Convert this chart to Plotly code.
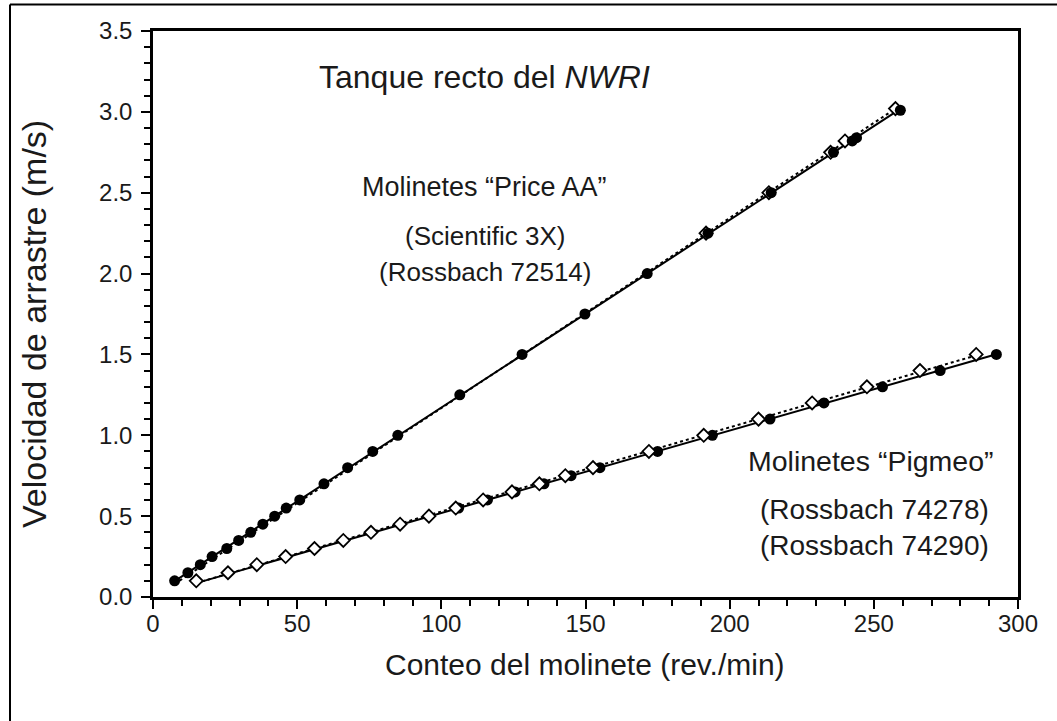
import numpy as np
import plotly.graph_objects as go

# ---------------- data ----------------
# Price AA meters: filled circles (solid line)
price_filled_x = [7.5, 12.1, 16.4, 20.5, 25.6, 29.7, 33.9, 38.1, 42.2, 46.2, 50.9,
                  59.3, 67.5, 76.2, 84.9, 106.4, 128.0, 149.8, 171.4, 192.5, 214.4,
                  236.0, 242.5, 244.0, 259.2]
price_filled_y = [0.10, 0.15, 0.20, 0.25, 0.30, 0.35, 0.40, 0.45, 0.50, 0.55, 0.60,
                  0.70, 0.80, 0.90, 1.00, 1.25, 1.50, 1.75, 2.00, 2.25, 2.50,
                  2.75, 2.82, 2.84, 3.01]
# Price AA meters: open diamonds (dotted line) - only the ones visible
price_open_x = [191.8, 213.6, 235.0, 240.0, 257.5]
price_open_y = [2.25, 2.50, 2.75, 2.82, 3.02]

# Pigmeo meters: open diamonds (dotted line)
pig_open_x = [15.0, 26.0, 36.0, 46.0, 56.0, 66.0, 75.6, 85.7, 95.7, 105.0, 114.5,
              124.5, 134.0, 143.0, 152.6, 172.0, 191.0, 210.0, 228.6, 247.6, 266.0, 285.5]
pig_open_y = [0.10, 0.15, 0.20, 0.25, 0.30, 0.35, 0.40, 0.45, 0.50, 0.55, 0.60,
              0.65, 0.70, 0.75, 0.80, 0.90, 1.00, 1.10, 1.20, 1.30, 1.40, 1.50]
# Pigmeo meters: filled circles (solid line)
pig_filled_x = [106.0, 116.0, 125.6, 135.6, 145.0, 155.0, 175.0, 194.0, 214.0,
                232.7, 253.0, 273.0, 292.5]
pig_filled_y = [0.55, 0.60, 0.65, 0.70, 0.75, 0.80, 0.90, 1.00, 1.10,
                1.20, 1.30, 1.40, 1.50]

x_ticks = [0, 50, 100, 150, 200, 250, 300]
y_ticks = [0.0, 0.5, 1.0, 1.5, 2.0, 2.5, 3.0, 3.5]

x_title = "Conteo del molinete (rev./min)"
y_title = "Velocidad de arrastre (m/s)"
title_text = "Tanque recto del <i>NWRI</i>"
price_lines = ["Molinetes “Price AA”", "(Scientific 3X)", "(Rossbach 72514)"]
pig_lines = ["Molinetes “Pigmeo”", "(Rossbach 74278)", "(Rossbach 74290)"]

# ---------------- figure ----------------
W, H = 1057, 721
ML, MR, MT, MB = 153, 39, 31, 124
FONT = "Liberation Sans, Arial, Helvetica, sans-serif"
INK = "#1a1a1a"


def fit_line(xs, ys, x_from, x_to):
    k, b = np.polyfit(xs, ys, 1)
    xx = np.array([x_from, x_to])
    return xx, k * xx + b


fig = go.Figure()

price_lo = min(price_filled_x)
pig_lo = min(pig_open_x)

lx, ly = fit_line(price_open_x, price_open_y, price_lo, max(price_open_x))
fig.add_trace(go.Scatter(x=lx, y=ly, mode="lines",
                         line=dict(color="black", width=2, dash="dot"), hoverinfo="skip"))
lx, ly = fit_line(price_filled_x, price_filled_y, price_lo, max(price_filled_x))
fig.add_trace(go.Scatter(x=lx, y=ly, mode="lines",
                         line=dict(color="black", width=2), hoverinfo="skip"))
lx, ly = fit_line(pig_open_x, pig_open_y, pig_lo, max(pig_open_x))
fig.add_trace(go.Scatter(x=lx, y=ly, mode="lines",
                         line=dict(color="black", width=2, dash="dot"), hoverinfo="skip"))
lx, ly = fit_line(pig_filled_x, pig_filled_y, pig_lo, max(pig_filled_x))
fig.add_trace(go.Scatter(x=lx, y=ly, mode="lines",
                         line=dict(color="black", width=2), hoverinfo="skip"))

open_marker = dict(symbol="diamond", size=10, color="white",
                   line=dict(color="black", width=1.8))
filled_marker = dict(symbol="circle", size=11, color="black",
                     line=dict(color="black", width=0))

fig.add_trace(go.Scatter(x=price_open_x, y=price_open_y, mode="markers", marker=open_marker))
fig.add_trace(go.Scatter(x=price_filled_x, y=price_filled_y, mode="markers", marker=filled_marker))
fig.add_trace(go.Scatter(x=pig_filled_x, y=pig_filled_y, mode="markers", marker=filled_marker))
fig.add_trace(go.Scatter(x=pig_open_x, y=pig_open_y, mode="markers", marker=open_marker))

axis_common = dict(
    showgrid=False, zeroline=False, showline=True, linecolor="black", linewidth=2.5,
    mirror=True, ticks="outside", tickcolor="black", tickwidth=2, ticklen=9,
    tickfont=dict(family=FONT, size=24, color=INK),
)
fig.update_xaxes(range=[0, 300], tickvals=x_ticks, ticktext=[str(v) for v in x_ticks],
                 minor=dict(dtick=10, tick0=0, ticks="outside", ticklen=6,
                            tickwidth=2, tickcolor="black"),
                 ticklabelstandoff=-6,
                 **axis_common)
fig.update_yaxes(range=[0, 3.5], tickvals=y_ticks, ticktext=[f"{v:.1f}" for v in y_ticks],
                 minor=dict(dtick=0.1, tick0=0, ticks="outside", ticklen=6,
                            tickwidth=2, tickcolor="black"),
                 ticklabelstandoff=4,
                 **axis_common)

pw = W - ML - MR
ph = H - MT - MB


def px_x(p):
    return (p - ML) / pw


def px_y(p):
    return 1 - (p - MT) / ph


f_mol = dict(family=FONT, size=27, color=INK)
f_ros = dict(family=FONT, size=26, color=INK)
f_mol2 = dict(family=FONT, size=28.5, color=INK)
f_ros2 = dict(family=FONT, size=28, color=INK)
annotations = [
    dict(x=57, y=3.215, xanchor="left", yanchor="middle", text=title_text,
         font=dict(family=FONT, size=32, color=INK)),
    dict(x=115, y=2.535, xanchor="center", yanchor="middle", text=price_lines[0], font=f_mol),
    dict(x=115, y=2.235, xanchor="center", yanchor="middle", text=price_lines[1], font=f_ros),
    dict(x=115, y=2.01, xanchor="center", yanchor="middle", text=price_lines[2], font=f_ros),
    dict(x=292.5, y=0.84, xanchor="right", yanchor="middle", text=pig_lines[0], font=f_mol2),
    dict(x=290.5, y=0.54, xanchor="right", yanchor="middle", text=pig_lines[1], font=f_ros2),
    dict(x=290.5, y=0.32, xanchor="right", yanchor="middle", text=pig_lines[2], font=f_ros2),
]
for a in annotations:
    a.update(xref="x", yref="y", showarrow=False)

# axis titles as annotations placed where they sit in the reference
annotations.append(dict(xref="paper", yref="paper", x=px_x(585), y=px_y(664),
                        xanchor="center", yanchor="middle", showarrow=False,
                        text=x_title, font=dict(family=FONT, size=30, color=INK)))
annotations.append(dict(xref="paper", yref="paper", x=px_x(34), y=px_y(324),
                        xanchor="center", yanchor="middle", showarrow=False, textangle=-90,
                        text=y_title, font=dict(family=FONT, size=34, color=INK)))

shapes = [
    dict(type="line", xref="paper", yref="paper", x0=px_x(10), x1=px_x(1060),
         y0=px_y(4.5), y1=px_y(4.5), line=dict(color="black", width=2)),
    dict(type="line", xref="paper", yref="paper", x0=px_x(10), x1=px_x(10),
         y0=px_y(4.5), y1=px_y(725), line=dict(color="black", width=2)),
]

fig.update_layout(
    width=W, height=H, autosize=False,
    margin=dict(l=ML, r=MR, t=MT, b=MB),
    paper_bgcolor="white", plot_bgcolor="white",
    showlegend=False, annotations=annotations, shapes=shapes,
    font=dict(family=FONT, color=INK),
)

fig.write_html("out.html", config={"displayModeBar": False},
               post_script="document.body.style.margin='0';document.body.style.overflow='hidden';")
